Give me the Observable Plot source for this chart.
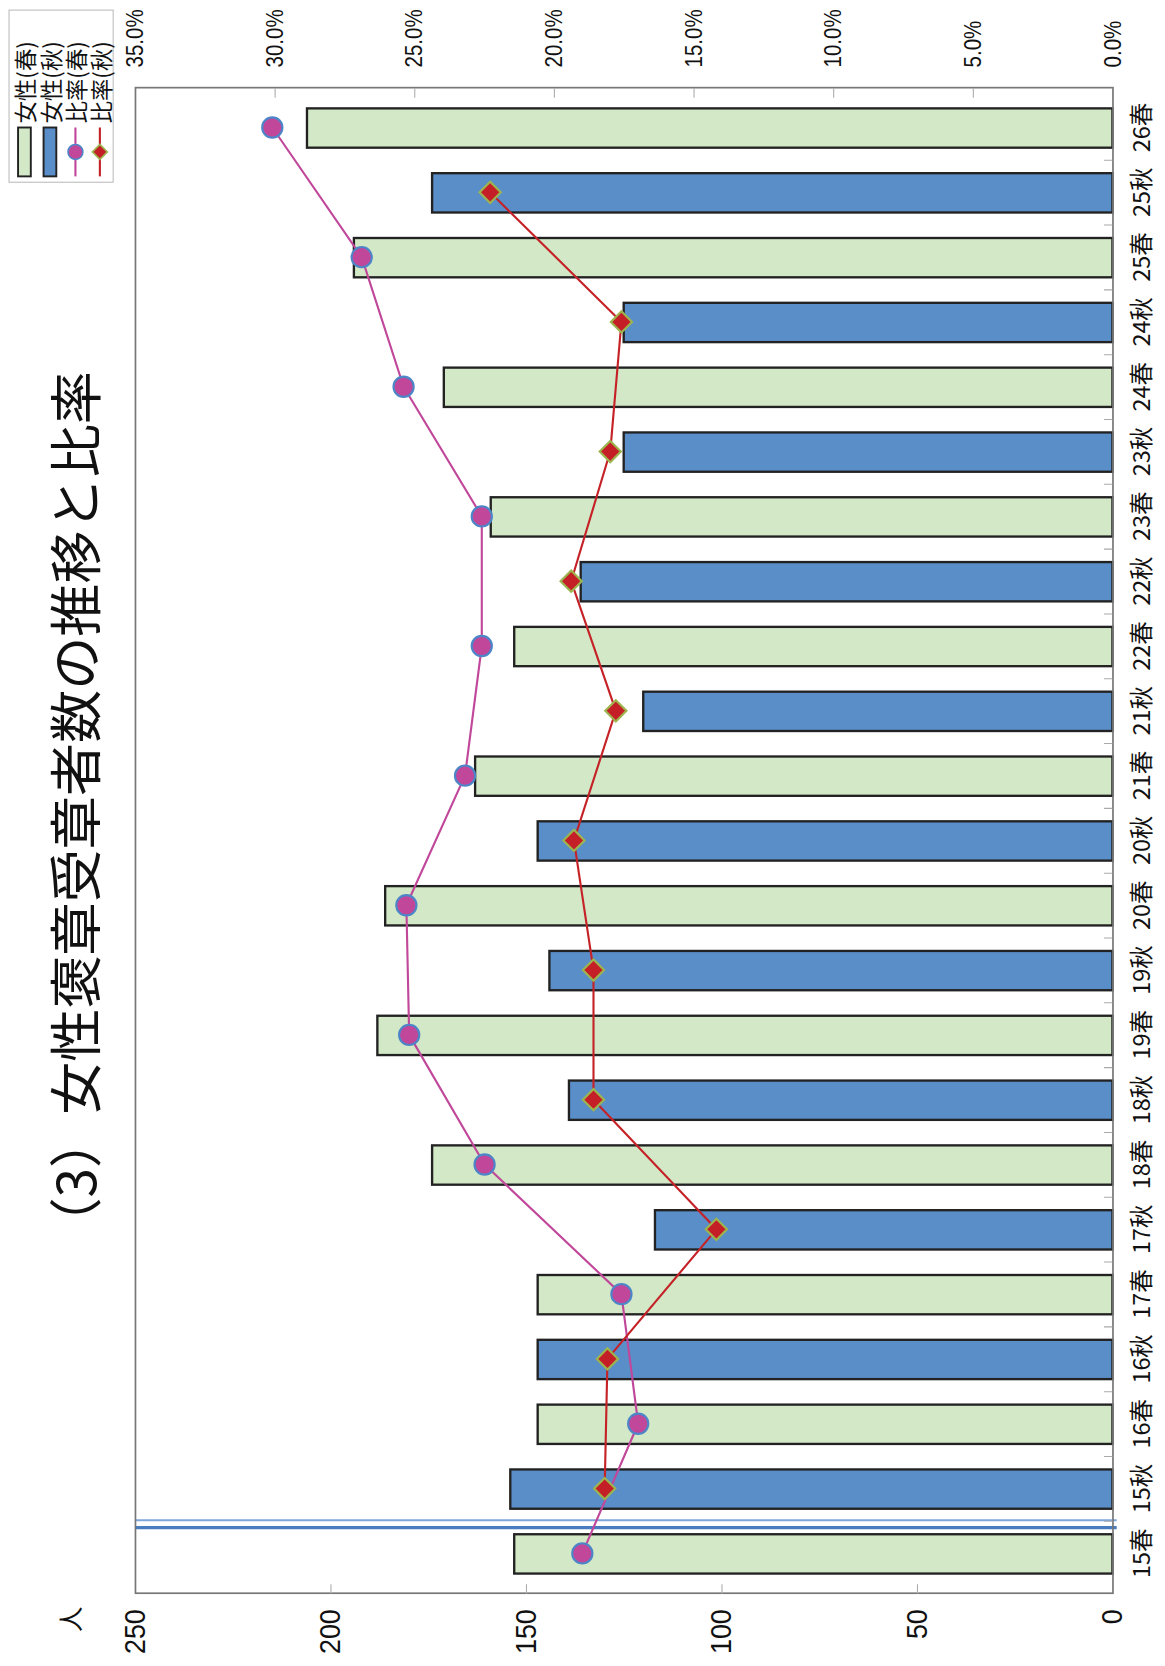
<!DOCTYPE html>
<html><head><meta charset="utf-8">
<script src="https://cdn.jsdelivr.net/npm/d3@7"></script>
<script src="https://cdn.jsdelivr.net/npm/@observablehq/plot@0.6"></script>
<style>
html,body{margin:0;padding:0;background:#fff;}
#page{position:relative;width:1165px;height:1666px;overflow:hidden;background:#fff;}
#land{position:absolute;left:0;top:0;width:1568px;height:1096px;transform-origin:0 0;transform:scale(1.0625) rotate(-90deg) translateX(-100%);}
#land svg.chart{position:absolute;left:0;top:0;}
#title{position:absolute;left:391px;top:43px;font-family:"Noto Sans CJK JP";font-size:50px;line-height:1;white-space:nowrap;color:#111;}
#unit{position:absolute;left:32px;top:53px;font-family:"Noto Sans CJK JP";font-size:24px;line-height:1;color:#111;}
#legend{position:absolute;left:1396px;top:8px;overflow:visible;}
</style></head><body>
<div id="page"><div id="land">
<div id="title">（3）女性褒章受章者数の推移と比率</div>
<div id="unit">人</div>
</div></div>
<script>
const categories = ["15春","15秋","16春","16秋","17春","17秋","18春","18秋","19春","19秋","20春","20秋","21春","21秋","22春","22秋","23春","23秋","24春","24秋","25春","25秋","26春"];
const counts = [153,154,147,147,147,117,174,139,188,144,186,147,163,120,153,136,159,125,171,125,194,174,206];
const springCats = ["15春","16春","17春","18春","19春","20春","21春","22春","23春","24春","25春","26春"];
const springPct = [19.0,17.0,17.6,22.5,25.2,25.3,23.2,22.6,22.6,25.4,26.9,30.1];
const autumnCats = ["15秋","16秋","17秋","18秋","19秋","20秋","21秋","22秋","23秋","24秋","25秋"];
const autumnPct = [18.2,18.1,14.2,18.6,18.6,19.3,17.8,19.4,18.0,17.6,22.3];
const countTicks = [0,50,100,150,200,250];
const pctTicks = [0,5,10,15,20,25,30,35];
const legendLabels = ["女性(春)","女性(秋)","比率(春)","比率(秋)"];

const countMax = 250, pctMax = 35;
const toCount = p => p * countMax / pctMax;

const C = {spring:"#d2e8c6", autumn:"#5a8ec8", springLine:"#c0479a", springDotStroke:"#4d86c8", autumnLine:"#c52228", autumnDot:"#c41f27", autumnDotStroke:"#9db54e"};

const bars = categories.map((c,i)=>({cat:c, season:c.endsWith("春")?"春":"秋", count:counts[i]}));
const spring = springCats.map((c,i)=>({cat:c, pct:springPct[i]}));
const autumn = autumnCats.map((c,i)=>({cat:c, pct:autumnPct[i]}));

const W = 1568, H = 1096, mL = 68, mR = 83, mT = 127, mB = 49;
const innerW = W - mL - mR, innerH = H - mT - mB;
const step = innerW / categories.length;

const chart = Plot.plot({
  width: W, height: H,
  marginLeft: mL, marginRight: mR, marginTop: mT, marginBottom: mB,
  style: {background: "transparent", color: "#111"},
  x: {type: "band", domain: categories, paddingInner: 0.4, paddingOuter: 0.2, axis: null},
  y: {domain: [0, countMax], axis: null},
  marks: [
    Plot.barY(bars.filter(d=>d.season==="春"), {x:"cat", y:"count", fill:C.spring, stroke:"#222", strokeWidth:2.2}),
    Plot.barY(bars.filter(d=>d.season==="秋"), {x:"cat", y:"count", fill:C.autumn, stroke:"#222", strokeWidth:2.2}),
    Plot.ruleX(["15秋"], {x:d=>d, dx:-step/2 + 1, stroke:"#7ea6d8", strokeWidth:2, insetBottom:-4}),
    Plot.ruleX(["15秋"], {x:d=>d, dx:-step/2 - 6, stroke:"#4a7cc0", strokeWidth:3, insetBottom:-4}),
    Plot.frame({stroke:"#777", strokeWidth:1.6}),
    Plot.tickY(countTicks.slice(1,-1), {y:d=>d, stroke:"#aaa", strokeWidth:1, insetRight: innerW - 9}),
    Plot.tickY(pctTicks.slice(1,-1).map(toCount), {y:d=>d, stroke:"#aaa", strokeWidth:1, insetLeft: innerW - 9}),
    Plot.tickX(categories.slice(1), {x:d=>d, dx:-step/2, stroke:"#aaa", strokeWidth:1, insetTop: innerH - 8}),
    Plot.line(spring, {x:"cat", y:d=>toCount(d.pct), stroke:C.springLine, strokeWidth:2}),
    Plot.line(autumn, {x:"cat", y:d=>toCount(d.pct), stroke:C.autumnLine, strokeWidth:2}),
    Plot.dot(spring, {x:"cat", y:d=>toCount(d.pct), r:9.5, fill:C.springLine, stroke:C.springDotStroke, strokeWidth:2}),
    Plot.dot(autumn, {x:"cat", y:d=>toCount(d.pct), symbol:"diamond2", r:9, fill:C.autumnDot, stroke:C.autumnDotStroke, strokeWidth:2}),
    Plot.axisX({anchor:"bottom", tickSize:0, tickPadding:19, fontSize:22, fontFamily:"Noto Sans CJK JP", label:null}),
    Plot.axisY(countTicks, {anchor:"left", tickSize:0, tickPadding:15, fontSize:27, fontFamily:"Liberation Sans, Arial, sans-serif", label:null}),
    Plot.axisY(pctTicks.map(toCount), {anchor:"right", tickSize:0, tickPadding:19, fontSize:22.5, fontFamily:"Liberation Sans, Arial, sans-serif", tickFormat:d=>(d*pctMax/countMax).toFixed(1)+"%", label:null})
  ]
});
chart.classList.add("chart");
document.getElementById("land").appendChild(chart);

// condense the number labels like the reference's narrow face
const labelGroups = chart.querySelectorAll('g[aria-label="y-axis tick label"]');
const squeeze = [0.94, 0.86];
labelGroups.forEach((g, gi) => {
  g.querySelectorAll("text").forEach(t => {
    const len = t.getComputedTextLength();
    if (len > 0) {
      t.setAttribute("textLength", (len * squeeze[Math.min(gi,1)]).toFixed(1));
      t.setAttribute("lengthAdjust", "spacingAndGlyphs");
    }
  });
});

// legend
const lg = d3.create("svg").attr("id","legend").attr("width",168).attr("height",112);
lg.append("rect").attr("x",0.5).attr("y",0.5).attr("width",162).attr("height",98).attr("fill","#fff").attr("stroke","#bbb");
const rowsY = [15,39,63,86];
rowsY.forEach((y,i)=>{
  const g = lg.append("g").attr("transform",`translate(0,${y})`);
  if (i < 2) {
    g.append("rect").attr("x",6).attr("y",-6).attr("width",46).attr("height",12)
      .attr("fill", i===0?C.spring:C.autumn).attr("stroke","#222").attr("stroke-width",1.8);
  } else if (i === 2) {
    g.append("line").attr("x1",6).attr("x2",52).attr("stroke",C.springLine).attr("stroke-width",2);
    g.append("circle").attr("cx",29).attr("r",7).attr("fill",C.springLine).attr("stroke",C.springDotStroke).attr("stroke-width",1.5);
  } else {
    g.append("line").attr("x1",6).attr("x2",52).attr("stroke",C.autumnLine).attr("stroke-width",2);
    g.append("path").attr("d","M29,-7L36,0L29,7L22,0Z").attr("fill",C.autumnDot).attr("stroke",C.autumnDotStroke).attr("stroke-width",1.5);
  }
  g.append("text").attr("x",56).attr("y",0).attr("dominant-baseline","central")
    .attr("font-family","Noto Sans CJK JP").attr("font-size",21).attr("fill","#111").text(legendLabels[i]);
});
document.getElementById("land").appendChild(lg.node());
</script>
</body></html>
